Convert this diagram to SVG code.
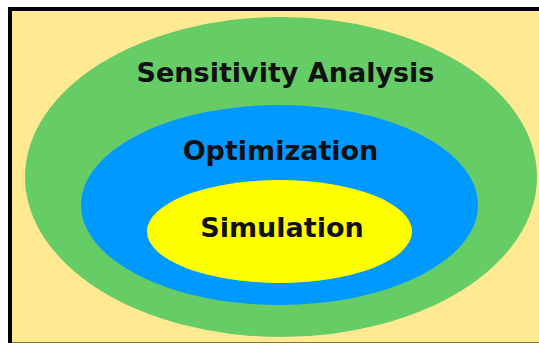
<svg xmlns="http://www.w3.org/2000/svg" width="539" height="343" viewBox="0 0 539 343">
<style>
.lbl{font-family:"DejaVu Sans","Verdana",sans-serif;font-weight:bold;font-size:27px;fill:#111;text-anchor:middle}
</style>
<rect x="0" y="0" width="539" height="343" fill="#ffffff"/>
<rect id="frame" x="10" y="9" width="540" height="335.5" fill="#FFE991" stroke="#000" stroke-width="4"/>
<g id="sensitivity">
<ellipse cx="281" cy="177" rx="256" ry="160" fill="#66CC66"/>
<text class="lbl" x="285.5" y="82">Sensitivity Analysis</text>
</g>
<g id="optimization">
<ellipse cx="279.5" cy="205" rx="198.5" ry="100" fill="#0099FF"/>
<text class="lbl" x="280.5" y="160">Optimization</text>
</g>
<g id="simulation">
<ellipse cx="279.5" cy="231.5" rx="132.5" ry="51.5" fill="#FFFF00"/>
<text class="lbl" x="282" y="237">Simulation</text>
</g>
</svg>
